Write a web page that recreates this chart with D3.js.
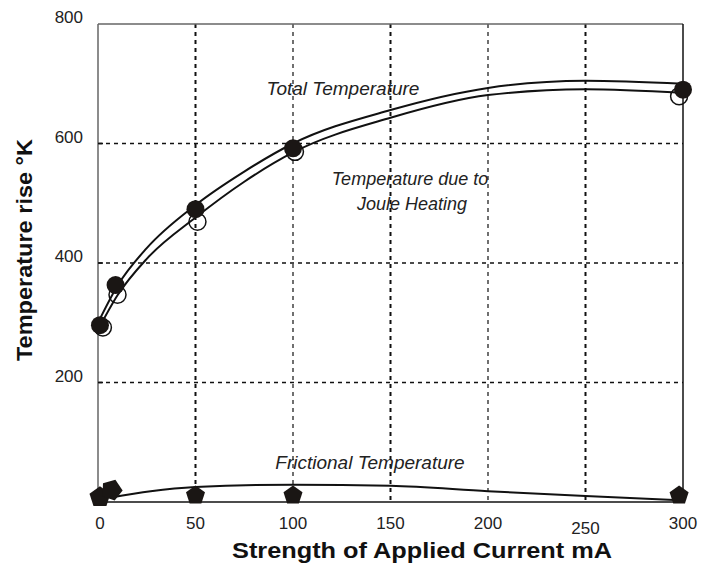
<!DOCTYPE html>
<html>
<head>
<meta charset="utf-8">
<script src="https://cdn.jsdelivr.net/npm/d3@7"></script>
<style>
  body { margin: 0; background: #fff; }
  text { font-family: "Liberation Sans", Arial, sans-serif; }
</style>
</head>
<body>
<div id="chart"></div>
<script>
// measured points
var totalX = [1, 9, 50, 100, 300]
  , totalY = [296, 363, 490, 592, 690]
  , jouleX = [2.5, 10, 51, 101, 298]
  , jouleY = [292, 347, 469, 586, 679]
  , fricX = [1, 7, 50, 100, 298]
  , fricY = [8, 20, 11, 11, 11]
  ;

// fitted curves as drawn in the figure
var fitX = [0, 10, 25, 50, 75, 100, 150, 200, 250, 300]
  , totalFit = [300, 362, 425, 497, 553, 600, 656, 693, 705, 700]
  , jouleFit = [288, 346, 407, 476, 536, 585, 643, 681, 691, 685]
  , fricFitX = [6, 27, 50, 100, 150, 200, 250, 297]
  , fricFit = [7, 18, 25, 29, 27, 18, 10, 3]
  ;

var xTicks = [0, 50, 100, 150, 200, 250, 300]
  , yTicks = [200, 400, 600, 800]
  , xGrid = [50, 100, 150, 200, 250]
  , yGrid = [200, 400, 600]
  ;

var w = 711
  , h = 565
  , mLeft = 98
  , mRight = 683
  , mTop = 24
  , mBottom = 502
  ;

var x = d3.scaleLinear().domain([0, 300]).range([mLeft, mRight])
  , y = d3.scaleLinear().domain([0, 800]).range([mBottom, mTop])
  ;

var svg = d3.select('#chart').append('svg')
            .attr('width', w).attr('height', h)
  ;

// grid
svg.selectAll('line.vgrid').data(xGrid).enter().append('line')
  .attr('class', 'vgrid')
  .attr('x1', function (d) { return x(d); }).attr('x2', function (d) { return x(d); })
  .attr('y1', mTop).attr('y2', mBottom)
  .attr('stroke', '#111').attr('stroke-width', function (d, i) { return i % 2 ? 1.2 : 2; })
  .attr('stroke-dasharray', '4,4');

svg.selectAll('line.hgrid').data(yGrid).enter().append('line')
  .attr('class', 'hgrid')
  .attr('x1', mLeft).attr('x2', mRight)
  .attr('y1', function (d) { return y(d); }).attr('y2', function (d) { return y(d); })
  .attr('stroke', '#111').attr('stroke-width', 1.6)
  .attr('stroke-dasharray', '4,4');

// frame
svg.append('line').attr('x1', mLeft).attr('x2', mRight).attr('y1', mTop).attr('y2', mTop)
  .attr('stroke', '#666').attr('stroke-width', 1.5);
svg.append('line').attr('x1', mLeft).attr('x2', mLeft).attr('y1', mTop).attr('y2', mBottom)
  .attr('stroke', '#666').attr('stroke-width', 1.5);
svg.append('line').attr('x1', mRight).attr('x2', mRight).attr('y1', mTop).attr('y2', mBottom)
  .attr('stroke', '#111').attr('stroke-width', 1.5);
svg.append('line').attr('x1', mLeft).attr('x2', mRight).attr('y1', mBottom).attr('y2', mBottom)
  .attr('stroke', '#111').attr('stroke-width', 1.5);

// small y ticks
svg.selectAll('line.ytick').data(yGrid).enter().append('line')
  .attr('x1', mLeft).attr('x2', mLeft + 5)
  .attr('y1', function (d) { return y(d); }).attr('y2', function (d) { return y(d); })
  .attr('stroke', '#111').attr('stroke-width', 1.6);

// tick labels
svg.selectAll('text.ylab').data(yTicks).enter().append('text')
  .attr('x', 83).attr('y', function (d) { return y(d) - 1; })
  .attr('text-anchor', 'end')
  .attr('font-size', 17).attr('fill', '#222')
  .text(function (d) { return d; });

svg.selectAll('text.xlab').data(xTicks).enter().append('text')
  .attr('x', function (d) { return x(d) + (d === 0 ? 2 : 0); })
  .attr('y', function (d) { return d === 250 ? 534 : 529; })
  .attr('text-anchor', 'middle')
  .attr('font-size', 17).attr('fill', '#222')
  .text(function (d) { return d; });

// axis titles
svg.append('text')
  .attr('transform', 'translate(32,' + 250 + ') rotate(-90)')
  .attr('text-anchor', 'middle')
  .attr('font-size', 22).attr('font-weight', 'bold').attr('fill', '#111')
  .attr('textLength', 222).attr('lengthAdjust', 'spacingAndGlyphs')
  .text('Temperature rise \u00b0K');

svg.append('text')
  .attr('x', 422).attr('y', 558)
  .attr('text-anchor', 'middle')
  .attr('font-size', 22).attr('font-weight', 'bold').attr('fill', '#111')
  .attr('textLength', 380).attr('lengthAdjust', 'spacingAndGlyphs')
  .text('Strength of Applied Current mA');

// curves
var line = d3.line()
  .x(function (d) { return x(d[0]); })
  .y(function (d) { return y(d[1]); })
  .curve(d3.curveMonotoneX);

var curves = [
  d3.zip(fitX, totalFit),
  d3.zip(fitX, jouleFit),
  d3.zip(fricFitX, fricFit)
];

svg.selectAll('path.curve').data(curves).enter().append('path')
  .attr('class', 'curve')
  .attr('d', line)
  .attr('fill', 'none')
  .attr('stroke', '#111')
  .attr('stroke-width', 2);

// markers
svg.selectAll('circle.joule').data(d3.zip(jouleX, jouleY)).enter().append('circle')
  .attr('cx', function (d) { return x(d[0]); })
  .attr('cy', function (d) { return y(d[1]); })
  .attr('r', 8.5)
  .attr('fill', 'none')
  .attr('stroke', '#111').attr('stroke-width', 1.5);

svg.selectAll('circle.total').data(d3.zip(totalX, totalY)).enter().append('circle')
  .attr('cx', function (d) { return x(d[0]); })
  .attr('cy', function (d) { return y(d[1]); })
  .attr('r', 9)
  .attr('fill', '#1a1614');

var pentagon = function (r) {
  var pts = d3.range(5).map(function (i) {
    var a = -Math.PI / 2 + i * 2 * Math.PI / 5;
    return [r * Math.cos(a), r * Math.sin(a)];
  });
  return 'M' + pts.join('L') + 'Z';
};

svg.selectAll('path.fric').data(d3.zip(fricX, fricY)).enter().append('path')
  .attr('transform', function (d, i) {
    return 'translate(' + x(d[0]) + ',' + y(d[1]) + ')' + (i === 1 ? ' rotate(20)' : '');
  })
  .attr('d', function (d, i) { return pentagon(i < 2 ? 11 : 10); })
  .attr('fill', '#1a1614');

// annotations
var notes = [
  { t: 'Total Temperature', x: 343, y: 95, size: 19 },
  { t: 'Temperature due to', x: 410, y: 185, size: 18 },
  { t: 'Joule Heating', x: 412, y: 210, size: 18 },
  { t: 'Frictional Temperature', x: 370, y: 469, size: 19 }
];

svg.selectAll('text.note').data(notes).enter().append('text')
  .attr('x', function (d) { return d.x; })
  .attr('y', function (d) { return d.y; })
  .attr('text-anchor', 'middle')
  .attr('font-size', function (d) { return d.size; })
  .attr('font-style', 'italic').attr('fill', '#222')
  .text(function (d) { return d.t; });
</script>
</body>
</html>
